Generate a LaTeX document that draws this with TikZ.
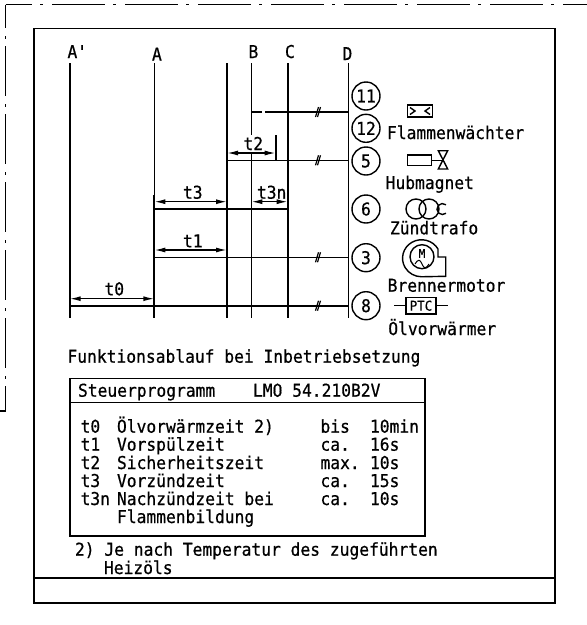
\documentclass[tikz,border=0pt]{standalone}
\usepackage{fontspec}
\usetikzlibrary{arrows.meta}
\newfontfamily\isofont[FakeStretch=0.92,FakeBold=0.6]{DejaVu Sans Mono}
\tikzset{
  txt/.style={inner sep=0pt,outer sep=0pt,anchor=base west,font=\isofont\fontsize{17.7}{18}\selectfont},
  rail/.style={line width=1.6pt},
  rowline/.style={line width=1.6pt},
  heavy/.style={line width=2pt},
  frameline/.style={line width=1.6pt},
  symb/.style={line width=1.4pt},
  numc/.style={draw,circle,line width=1.4pt,minimum size=28pt,inner sep=0pt,font=\isofont\fontsize{17.7}{18}\selectfont},
  dim/.style={line width=1.4pt,{Latex[length=11pt,width=5pt]}-{Latex[length=11pt,width=5pt]}},
  slashm/.style={line width=1.2pt},
}
\newcommand{\slashes}[1]{%
  \draw[slashm] (315.5,#1+5) -- (318.5,#1-5);
  \draw[slashm] (317.5,#1+5) -- (320.5,#1-5);}
\begin{document}
\begin{tikzpicture}[x=1pt,y=-1pt]
\useasboundingbox (0,0) rectangle (587,625);
% outer dash-dot border
\draw[line width=1.5pt,dash pattern=on 53pt off 8pt on 3pt off 9pt,dash phase=26.5pt] (5.5,4.5) -- (587,4.5);
\draw[line width=1.5pt,dash pattern=on 50pt off 8pt on 3pt off 7pt,dash phase=26.5pt] (5.5,4.5) -- (5.5,411);
\draw[line width=1.5pt] (5.5,411) -- (0,411);
% frame
\draw[frameline] (34,28.5) rectangle (554.7,602.7);
\draw[frameline] (34,578) -- (554.7,578);
% rails
\coordinate (rAp) at (69.7,63);  \coordinate (rApb) at (69.7,318);
\coordinate (rA) at (154.3,63);  \coordinate (rAm) at (154.3,195); \coordinate (rAb) at (154.3,318);
\coordinate (rE) at (227,63);    \coordinate (rEb) at (227,318);
\coordinate (rB) at (251.3,63);  \coordinate (rBb) at (251.3,318);
\coordinate (rC) at (287.7,63);  \coordinate (rCb) at (287.7,318);
\coordinate (rD) at (348.3,63);  \coordinate (rDb) at (348.3,318);
\coordinate (yD) at (0,112);
\coordinate (yF) at (0,160.3);
\coordinate (yZ) at (0,208.7);
\coordinate (yM) at (0,257.3);
\coordinate (yO) at (0,305.7);
\coordinate (tick) at (275.7,135);
\draw[rail] (rAp) -- (rApb);
\draw[rail] (rA) -- (rAm);
\draw[heavy] (rAm) -- (rAb);
\draw[heavy] (rE) -- (rEb);
\draw[rail] (rB) -- (251.3,135);
\draw[rail] (251.3,152) -- (rBb);
\draw[rail] (rC) -- (rCb);
\draw[rail] (rD) -- (rDb);
% rows
\draw[rowline] (rB |- yD) -- (262,112);
\draw[rowline] (265,112) -- (rD |- yD);
\draw[rowline] (rE |- yF) -- (rD |- yF);
\draw[rowline] (tick) -- (tick |- yF);
\draw[heavy] (rA |- yZ) -- (rC |- yZ);
\draw[rowline] (rA |- yM) -- (rD |- yM);
\draw[heavy] (rAp |- yO) -- (rD |- yO);
\slashes{112}\slashes{160.3}\slashes{257.3}\slashes{305.7}
% dimension arrows
\draw[dim] (227,153) -- (275.7,153);
\draw[dim] (154.3,201.7) -- (227,201.7);
\draw[dim] (251.3,201.7) -- (287.7,201.7);
\draw[dim] (154.3,250) -- (227,250);
\draw[dim] (69.7,298.7) -- (154.3,298.7);
% rail labels
\node[txt] (lAp) at (67.5,58) {A'};
\node[txt] (lA) at (152,60.5) {A};
\node[txt] (lB) at (248.5,58) {B};
\node[txt] (lC) at (285,58) {C};
\node[txt] (lD) at (342.5,60) {D};
% time labels
\node[txt] (lt2) at (243.5,150) {t2};
\node[txt] (lt3) at (183,198.7) {t3};
\node[txt] (lt3n) at (257,198.7) {t3n};
\node[txt] (lt1) at (183,247.3) {t1};
\node[txt] (lt0) at (104.5,295.3) {t0};
% numbered circles
\node[numc] (c11) at (366,96) {11};
\node[numc] (c12) at (366,128.3) {12};
\node[numc] (c5) at (366,161) {5};
\node[numc] (c6) at (366,209) {6};
\node[numc] (c3) at (366,257.7) {3};
\node[numc] (c8) at (366,305.7) {8};
% Flammenwaechter
\draw[symb] (407.7,105) rectangle (432.3,117);
\draw[symb] (410,107.5) -- (415,111) -- (410,114.5);
\draw[symb] (430,107.5) -- (425,111) -- (430,114.5);
\node[txt] (tFW) at (387,139) {Flammenwächter};
% Hubmagnet
\draw[symb] (407.7,155) rectangle (431.7,165.7);
\draw[symb] (431.7,160.5) -- (443,160.5);
\draw[symb] (438.3,150.7) -- (447.7,150.7) -- (438.3,169) -- (447.7,169) -- cycle;
\node[txt] (tHM) at (385.7,189) {Hubmagnet};
% Zuendtrafo
\draw[symb] (416,209) circle (10);
\draw[symb] (429,209) circle (10);
\draw[symb] (446,204.8) arc (-50:-310:5.5);
\node[txt] (tZT) at (390,234.3) {Zündtrafo};
% Brennermotor
\draw[symb] (438,249) arc (-30:-270:19 and 18.5) -- (445.7,276.3) -- (445.7,257) -- (438,257) -- cycle;
\draw[symb] (422,256.7) circle (12);
\node[inner sep=0pt,font=\isofont\fontsize{12}{12}\selectfont] (tM) at (422,253.5) {M};
\draw[line width=1pt] (415,264) .. controls (418,259) and (420,259) .. (422,264) .. controls (424,269) and (426,269) .. (429,264);
\node[txt] (tBM) at (387.7,291.7) {Brennermotor};
% PTC
\node[draw,line width=1.4pt,minimum width=30pt,minimum height=16.5pt,inner sep=0pt,font=\isofont\fontsize{13.5}{14}\selectfont] (ptc) at (421,305.7) {PTC};
\coordinate (ptcl) at (394,305.7);
\coordinate (ptcr) at (448.3,305.7);
\draw[symb] (ptcl) -- (ptc.west);
\draw[symb] (ptc.east) -- (ptcr);
\node[txt] (tOV) at (388.3,335) {Ölvorwärmer};
% caption
\node[txt] (cap) at (67.5,362.7) {Funktionsablauf bei Inbetriebsetzung};
% table
\draw[frameline] (69.7,378.3) rectangle (424.7,535.7);
\draw[frameline] (69.7,402.3) -- (424.7,402.3);
\node[txt] (hd1) at (78,396.7) {Steuerprogramm};
\node[txt] (hd2) at (253,396.7) {LMO 54.210B2V};
\node[txt] (a0) at (80.6,432.7) {t0};
\node[txt] (b0) at (117,432.7) {Ölvorwärmzeit 2)};
\node[txt] (c0) at (320.5,432.7) {bis};
\node[txt] (d0) at (370,432.7) {10min};
\node[txt] (a1) at (80.6,450.7) {t1};
\node[txt] (b1) at (117,450.7) {Vorspülzeit};
\node[txt] (c1) at (320.5,450.7) {ca.};
\node[txt] (d1) at (370,450.7) {16s};
\node[txt] (a2) at (80.6,469) {t2};
\node[txt] (b2) at (117,469) {Sicherheitszeit};
\node[txt] (c2) at (320.5,469) {max.};
\node[txt] (d2) at (370,469) {10s};
\node[txt] (a3) at (80.6,487) {t3};
\node[txt] (b3) at (117,487) {Vorzündzeit};
\node[txt] (c3t) at (320.5,487) {ca.};
\node[txt] (d3) at (370,487) {15s};
\node[txt] (a4) at (80.6,505) {t3n};
\node[txt] (b4) at (117,505) {Nachzündzeit bei};
\node[txt] (c4) at (320.5,505) {ca.};
\node[txt] (d4) at (370,505) {10s};
\node[txt] (b5) at (117,523) {Flammenbildung};
% footnote
\node[txt] (fn1) at (75,555.7) {2) Je nach Temperatur des zugeführten};
\node[txt] (fn2) at (104,574) {Heizöls};
\end{tikzpicture}
\end{document}
